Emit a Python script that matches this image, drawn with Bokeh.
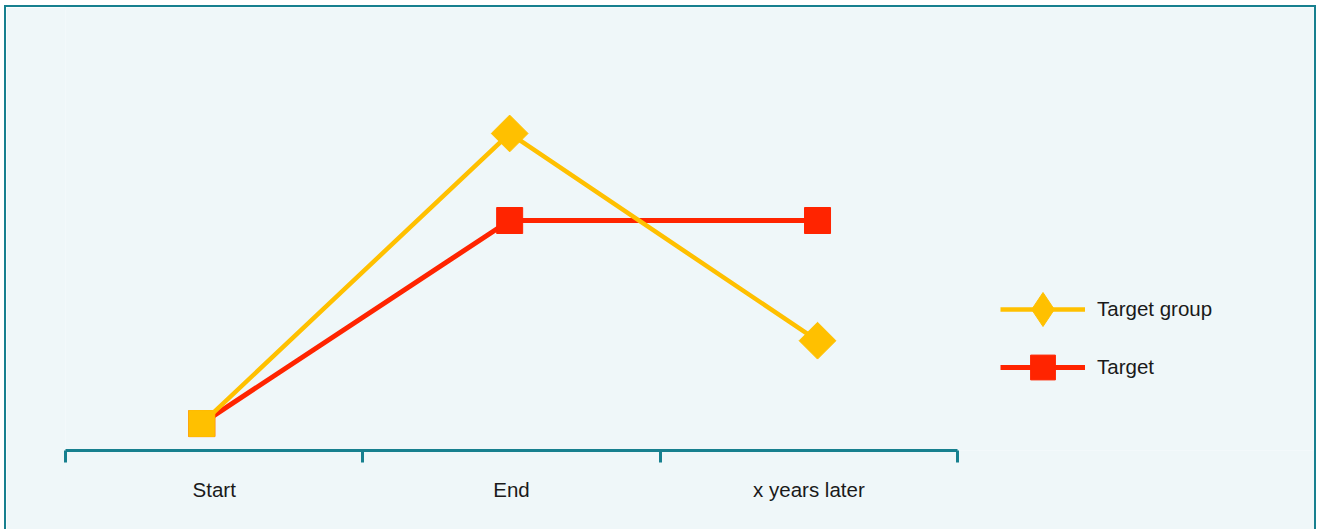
import math
from bokeh.plotting import figure
from bokeh.models import (Range1d, LinearAxis, FixedTicker, Legend, LegendItem,
                          ColumnDataSource)
from bokeh.embed import file_html
from bokeh.resources import INLINE

# --- data ---------------------------------------------------------------
categories = ["Start", "End", "x years later"]
target_group = [1, 8, 3]
target = [1, 5.9, 5.9]

# --- styles -------------------------------------------------------------
BG = "#eff7f9"
TEAL = "#17808f"
YELLOW = "#ffc000"
RED = "#ff2400"
TEXT = "#1a1a1a"
FONT = "Liberation Sans"

n = len(categories)
xs = [i + 0.5 for i in range(n)]

p = figure(width=1312, height=524, output_backend="svg", toolbar_location=None,
           x_range=Range1d(0.0573, 4.111), y_range=Range1d(0.35, 11.04),
           x_axis_location=None, y_axis_location=None,
           min_border_left=59, min_border_right=5,
           min_border_top=0, min_border_bottom=81)
p.background_fill_color = BG
p.border_fill_color = BG
p.outline_line_color = None
p.grid.visible = False
p.styles = {"margin-left": "4px", "margin-top": "5px",
            "border-left": f"2px solid {TEAL}",
            "border-right": f"2px solid {TEAL}",
            "border-top": f"2px solid {TEAL}"}

# category axis: ticks on the boundaries, labels in the middle
p.extra_x_ranges = {"cats": Range1d(0, 4.197)}
ax = LinearAxis(x_range_name="cats", bounds=(0, n),
                ticker=FixedTicker(ticks=xs, minor_ticks=list(range(n + 1))))
ax.major_label_overrides = {x: c for x, c in zip(xs, categories)}
ax.axis_line_color = TEAL
ax.axis_line_width = 3
ax.major_tick_in = 0
ax.major_tick_out = 0
ax.minor_tick_in = 0
ax.minor_tick_out = 12
ax.minor_tick_line_color = TEAL
ax.minor_tick_line_width = 3
ax.major_label_standoff = 15
ax.major_label_text_font = FONT
ax.major_label_text_font_size = "20.5px"
ax.major_label_text_color = TEXT
p.add_layout(ax, "below")

src_t = ColumnDataSource(dict(x=xs, y=target))
src_g = ColumnDataSource(dict(x=xs, y=target_group,
                              ang=[0] + [math.pi / 4] * (n - 1)))

l_t = p.line("x", "y", source=src_t, line_color=RED, line_width=5)
m_t = p.scatter("x", "y", source=src_t, marker="square", size=26,
                fill_color=RED, line_color=RED)
l_g = p.line("x", "y", source=src_g, line_color=YELLOW, line_width=4.5)
m_g = p.scatter("x", "y", source=src_g, marker="square", size=26, angle="ang",
                fill_color=YELLOW, line_color=YELLOW)
# diamond swatch for the legend key (hidden in the plot itself)
key_g = p.scatter("x", "y", source=src_g, marker="diamond",
                  fill_color=YELLOW, line_color=YELLOW, visible=False)


def make_legend(item, glyph_h, loc):
    lg = Legend(items=[item], location=loc)
    lg.glyph_width = 85
    lg.glyph_height = glyph_h
    lg.padding = 10
    lg.label_standoff = 12
    lg.label_text_font = FONT
    lg.label_text_font_size = "20.5px"
    lg.label_text_color = TEXT
    lg.background_fill_alpha = 0
    lg.border_line_alpha = 0
    lg.inactive_fill_alpha = 0
    return lg


p.add_layout(make_legend(LegendItem(label="Target group", renderers=[l_g, key_g]),
                         92, (925, 85)))
p.add_layout(make_legend(LegendItem(label="Target", renderers=[l_t, m_t]),
                         62, (925, 42)))

open("out.html", "w").write(file_html(p, INLINE))
